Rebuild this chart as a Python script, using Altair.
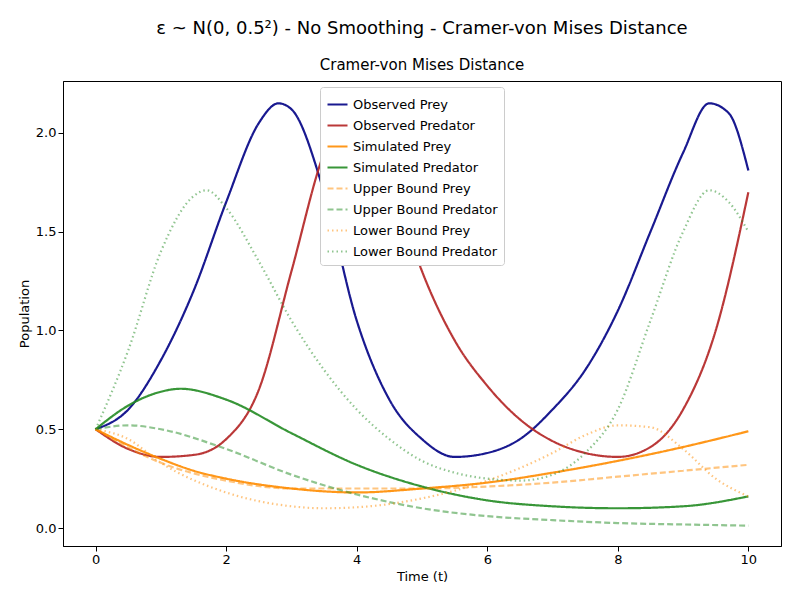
import pandas as pd
import altair as alt

series_names = [
    "Observed Prey", "Observed Predator", "Simulated Prey", "Simulated Predator",
    "Upper Bound Prey", "Upper Bound Predator", "Lower Bound Prey", "Lower Bound Predator",
]
series_colors = ["rgba(25,25,144,1)", "rgba(178,34,34,0.9)", "rgba(255,140,0,0.9)", "rgba(34,139,34,0.9)",
                 "rgba(255,140,0,0.5)", "rgba(34,139,34,0.5)", "rgba(255,140,0,0.5)", "rgba(34,139,34,0.5)"]
series_dash = [[1, 0], [1, 0], [1, 0], [1, 0], [6, 3], [6, 3], [1.5, 3], [1.5, 3]]
series_width = [2.2, 2.2, 2.2, 2.2, 1.6, 1.6, 1.6, 1.6]

obs_prey_t = [0, 0.5, 1, 1.5, 2, 2.5, 2.8, 3, 3.5, 4, 4.5, 5, 5.5, 6, 6.5, 7, 7.5, 8, 8.5, 9, 9.4, 9.7, 10]
obs_prey = [0.5, 0.6, 0.85, 1.2, 1.65, 2.05, 2.15, 2.12, 1.7, 1.05, 0.65, 0.45, 0.36, 0.38, 0.45, 0.6, 0.8, 1.1, 1.5, 1.9, 2.15, 2.1, 1.81]
obs_pred_t = [0, 0.5, 1, 1.5, 2, 2.5, 3, 3.5, 3.9, 4.2, 4.5, 5, 5.5, 6, 6.5, 7, 7.5, 8, 8.5, 9, 9.5, 10]
obs_pred = [0.5, 0.4, 0.36, 0.37, 0.45, 0.7, 1.3, 1.9, 2.15, 2.1, 1.8, 1.3, 0.95, 0.72, 0.55, 0.44, 0.38, 0.36, 0.41, 0.6, 1.0, 1.7]
sim_prey_t = [0, 0.5, 1, 1.5, 2, 3, 4, 5, 6, 7, 8, 9, 10]
sim_prey = [0.5, 0.42, 0.35, 0.29, 0.25, 0.2, 0.18, 0.2, 0.23, 0.28, 0.34, 0.41, 0.49]
sim_pred_t = [0, 0.5, 1, 1.3, 2, 3, 4, 5, 6, 7, 8, 9, 10]
sim_pred = [0.5, 0.62, 0.69, 0.705, 0.65, 0.48, 0.32, 0.21, 0.14, 0.11, 0.1, 0.11, 0.16]
up_prey_t = [0, 1, 2, 3, 4, 5, 6, 7, 8, 9, 10]
up_prey = [0.5, 0.33, 0.24, 0.2, 0.2, 0.2, 0.21, 0.23, 0.26, 0.29, 0.32]
up_pred_t = [0, 0.5, 1, 2, 3, 4, 5, 6, 7, 8, 9, 10]
up_pred = [0.5, 0.52, 0.5, 0.4, 0.27, 0.17, 0.1, 0.06, 0.04, 0.025, 0.018, 0.012]
lo_prey_t = [0, 0.5, 1, 2, 3, 3.5, 4, 5, 6, 7, 7.5, 8, 8.5, 9, 9.5, 10]
lo_prey = [0.5, 0.45, 0.33, 0.18, 0.11, 0.1, 0.105, 0.15, 0.24, 0.38, 0.47, 0.52, 0.51, 0.4, 0.25, 0.16]
lo_pred_t = [0, 0.5, 1, 1.5, 1.7, 2, 2.5, 3, 3.5, 4, 4.5, 5, 5.5, 6, 6.5, 7, 7.5, 8, 8.5, 9, 9.4, 9.7, 10]
lo_pred = [0.5, 0.9, 1.4, 1.68, 1.71, 1.62, 1.35, 1.05, 0.8, 0.6, 0.45, 0.34, 0.28, 0.25, 0.24, 0.27, 0.38, 0.6, 1.05, 1.5, 1.71, 1.65, 1.5]

pairs = [(obs_prey_t, obs_prey), (obs_pred_t, obs_pred), (sim_prey_t, sim_prey), (sim_pred_t, sim_pred),
         (up_prey_t, up_prey), (up_pred_t, up_pred), (lo_prey_t, lo_prey), (lo_pred_t, lo_pred)]
rows = []
for name, (ts, vs) in zip(series_names, pairs):
    for t, v in zip(ts, vs):
        rows.append({"series": name, "t": t, "pop": v})
df = pd.DataFrame(rows)

legend = alt.Legend(title=None, orient="none", legendX=257, legendY=6, symbolType="stroke",
                    symbolSize=400, labelFontSize=13, labelFont="DejaVu Sans",
                    fillColor="white", strokeColor="#cccccc", padding=6, cornerRadius=3, rowPadding=2)

chart = alt.Chart(df).mark_line(interpolate="monotone").encode(
    x=alt.X("t:Q", title="Time (t)", scale=alt.Scale(domain=[-0.5, 10.5], nice=False),
            axis=alt.Axis(values=[0, 2, 4, 6, 8, 10], grid=False)),
    y=alt.Y("pop:Q", title="Population", scale=alt.Scale(domain=[-0.091, 2.263], nice=False, zero=False),
            axis=alt.Axis(values=[0, 0.5, 1.0, 1.5, 2.0], format=".1f", grid=False)),
    color=alt.Color("series:N", sort=series_names,
                    scale=alt.Scale(domain=series_names, range=series_colors), legend=legend),
    strokeDash=alt.StrokeDash("series:N", sort=series_names,
                              scale=alt.Scale(domain=series_names, range=series_dash), legend=legend),
    strokeWidth=alt.StrokeWidth("series:N", sort=series_names,
                                scale=alt.Scale(domain=series_names, range=series_width), legend=legend),
    detail="series:N",
).properties(
    width=718, height=465,
    padding={"left": 10, "top": 12, "right": 5, "bottom": 5},
    title=alt.TitleParams("ε ~ N(0, 0.5²) - No Smoothing - Cramer-von Mises Distance",
                          subtitle="Cramer-von Mises Distance", fontSize=18, fontWeight="normal",
                          subtitleFontSize=15, subtitleColor="black", subtitlePadding=20,
                          font="DejaVu Sans", subtitleFont="DejaVu Sans", anchor="middle", offset=8),
).configure_view(stroke="black", strokeWidth=1).configure_axis(
    labelFont="DejaVu Sans", titleFont="DejaVu Sans", labelFontSize=13, titleFontSize=13,
    titleFontWeight="normal", labelColor="black", titleColor="black", domainColor="black",
    tickColor="black", tickSize=5,
)

chart.save("out.html", embed_options={"renderer": "svg", "actions": False})
